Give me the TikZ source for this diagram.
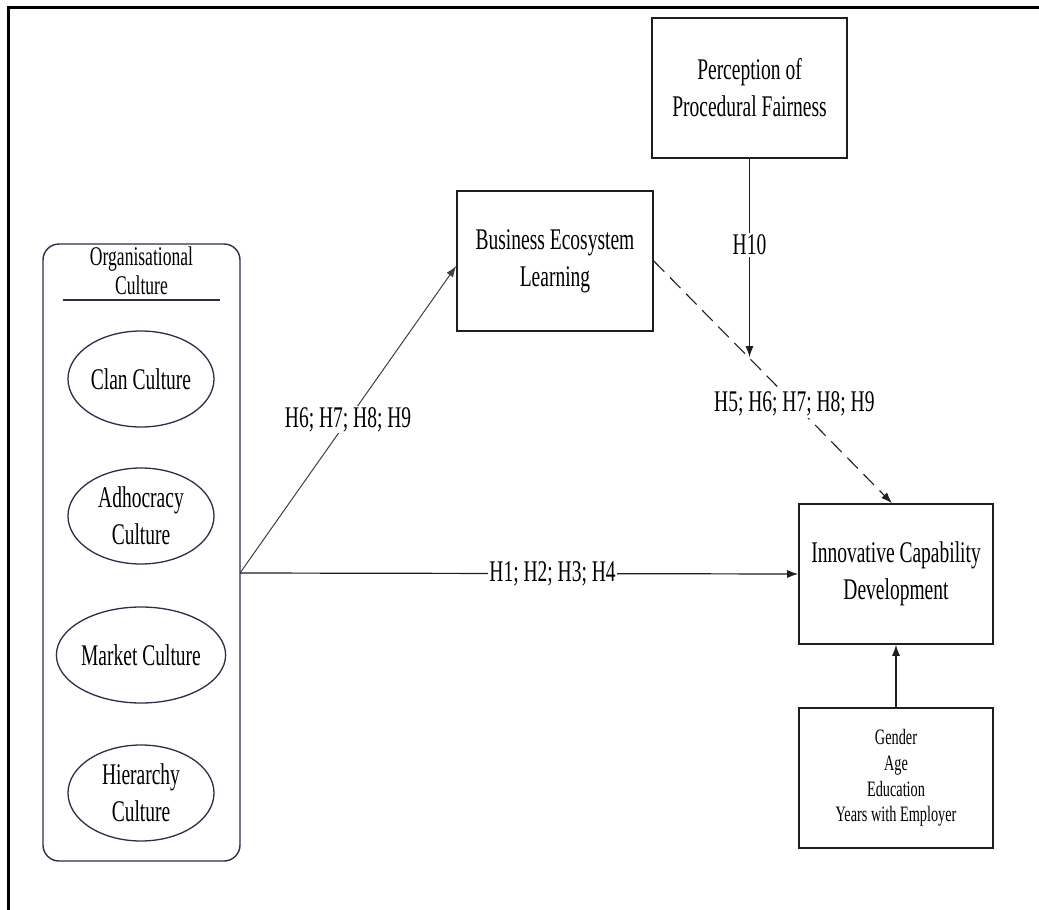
\documentclass[tikz,border=0pt]{standalone}
\usepackage{fontspec}
\setmainfont{Liberation Serif}[FakeStretch=0.65]
\usetikzlibrary{arrows.meta,shapes.geometric,calc}
\definecolor{navy}{RGB}{42,46,74}
\definecolor{ink}{RGB}{30,30,30}
\newcommand\myfs{\fontsize{30}{37}\selectfont}
\newcommand\myfssmall{\fontsize{27}{29}\selectfont}
\newcommand\myfsctrl{\fontsize{22}{25.7}\selectfont}
\tikzset{
  box/.style={draw=ink, line width=1.6pt, minimum width=195pt, minimum height=140pt, align=center, font=\myfs, inner sep=0pt},
  ell/.style={ellipse, draw=navy, line width=1.3pt, minimum width=146pt, minimum height=96pt, inner sep=0pt, align=center, font=\myfs},
  lbl/.style={fill=white, inner sep=1.5pt, font=\myfs},
  arr/.style={-{Latex[length=11pt,width=8pt]}, line width=1.2pt, draw=ink},
}
\begin{document}
\begin{tikzpicture}[x=1pt,y=-1pt]
\useasboundingbox (0,0) rectangle (1039,910);
\fill[white] (0,0) rectangle (1039,910);
% outer frame
\coordinate (ftr) at (1039,7);
\coordinate (ftl) at (8,7);
\coordinate (fbl) at (8,910);
\draw[line width=3pt, black] (ftr) -- (ftl) -- (fbl);

% organisational culture group
\node[draw=navy, line width=1.4pt, rounded corners=16pt, minimum width=197pt, minimum height=617pt] (org) at (141.5,552.5) {};
\node[font=\myfssmall, align=center, inner sep=0pt] (orgt) at (141.5,271) {Organisational\\Culture};
\coordinate (ul1) at (63,300);
\coordinate (ul2) at (220,300);
\draw[navy, line width=1.4pt] (ul1) -- (ul2);
\node[ell] (clan) at (141,379) {Clan Culture};
\node[ell] (adho) at (141,516) {Adhocracy\\Culture};
\node[ell] (mark) at (141,655) {Market Culture};
\node[ell] (hier) at (141,793) {Hierarchy\\Culture};

% boxes
\node[box] (ppf) at (749.5,88) {Perception of\\Procedural Fairness};
\node[box, minimum width=196pt] (bel) at (555,261) {Business Ecosystem\\Learning};
\node[box, minimum width=194pt] (icd) at (896,574) {Innovative Capability\\Development};
\node[box, minimum width=194pt, font=\myfsctrl] (ctrl) at (896,778) {Gender\\Age\\Education\\Years with Employer};

% connectors
\coordinate (jn) at (240,573);
\draw[arr, line width=1pt, draw=black!75] (jn) -- node[lbl, pos=0.5] {H6; H7; H8; H9} ($(bel.west)+(0,5)$);
\draw[arr] (jn) -- node[lbl, pos=0.56] {H1; H2; H3; H4} (icd.west);
\draw[arr, dash pattern=on 15pt off 8pt, line width=1.1pt] (bel.east) -- node[lbl, pos=0.59] {H5; H6; H7; H8; H9} ($(icd.north)+(-4,0)$);
\coordinate (mod) at ($(bel.east)!0.397!($(icd.north)+(-4,0)$)$);
\draw[arr] (ppf.south) -- node[lbl, pos=0.435] {H10} (ppf.south |- mod);
\draw[arr] (ctrl.north) -- (icd.south);
\end{tikzpicture}
\end{document}
